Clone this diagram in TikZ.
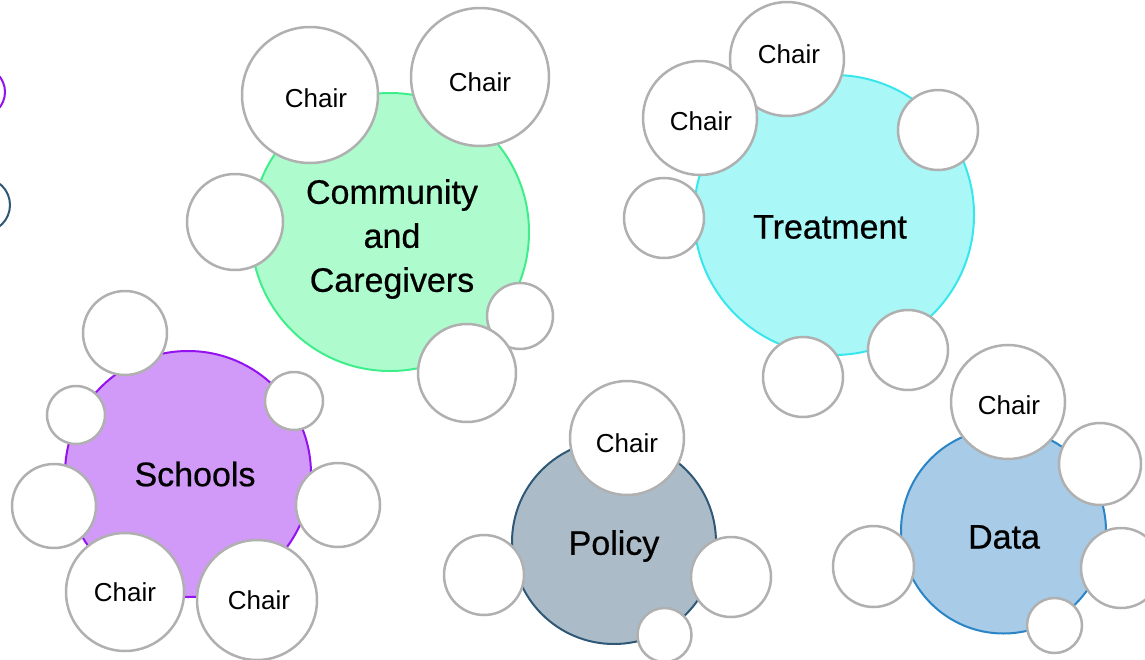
\documentclass[tikz,border=0pt]{standalone}
\usepackage{fontspec}
\setmainfont{Liberation Sans}
\definecolor{commfill}{HTML}{AEFCCE}
\definecolor{commline}{HTML}{3FEE8A}
\definecolor{treatfill}{HTML}{A9F7F7}
\definecolor{treatline}{HTML}{38E6EC}
\definecolor{schoolfill}{HTML}{D19AF9}
\definecolor{schoolline}{HTML}{9412EE}
\definecolor{policyfill}{HTML}{ABBCC8}
\definecolor{policyline}{HTML}{2E5876}
\definecolor{datafill}{HTML}{A8CCE7}
\definecolor{dataline}{HTML}{2A84C6}
\definecolor{satline}{HTML}{B0B0B0}
\newfontfamily\labelfont[FakeBold=0.6]{Liberation Sans}
\tikzset{
  hub/.style={circle, inner sep=0pt, outer sep=0pt, line width=2pt},
  hubtext/.style={inner sep=0pt, align=center,
    font=\labelfont\fontsize{34}{44}\selectfont},
  sat/.style={circle, inner sep=0pt, outer sep=0pt, draw=satline, fill=white,
    line width=2.5pt},
  chairtext/.style={inner sep=0pt, font=\fontsize{26}{30}\selectfont},
}
\begin{document}
\begin{tikzpicture}[x=1pt,y=-1pt]
\useasboundingbox (0,0) rectangle (1145,659);
\clip (0,0) rectangle (1145,659);

% partial rings at the left edge
\node[hub, draw=schoolline, fill=white, minimum size=50pt] (ringa) at (-20,92) {};
\node[hub, draw=policyline, fill=white, minimum size=54pt] (ringb) at (-17,205) {};

% Community and Caregivers
\node[hub, draw=commline, fill=commfill, minimum size=278pt] (comm) at (390,232) {};
\node[hubtext] (commlbl) at (392,239) {Community\\and\\Caregivers};
\node[sat, minimum size=136pt] (c1) at (310,95) {};
\node[chairtext] (c1t) at (316,98) {Chair};
\node[sat, minimum size=138pt] (c2) at (480,77) {};
\node[chairtext] (c2t) at (480,82) {Chair};
\node[sat, minimum size=96pt] (c3) at (235,222) {};
\node[sat, minimum size=66pt] (c4) at (520,316) {};
\node[sat, minimum size=98pt] (c5) at (467,373) {};

% Treatment
\node[hub, draw=treatline, fill=treatfill, minimum size=280pt] (treat) at (834,215) {};
\node[hubtext] (treatlbl) at (830,227) {Treatment};
\node[sat, minimum size=114pt] (t1) at (787,59) {};
\node[chairtext] (t1t) at (789,54) {Chair};
\node[sat, minimum size=114pt] (t2) at (700,118) {};
\node[chairtext] (t2t) at (701,121) {Chair};
\node[sat, minimum size=80pt] (t3) at (938,130) {};
\node[sat, minimum size=80pt] (t4) at (664,218) {};
\node[sat, minimum size=80pt] (t5) at (908,350) {};
\node[sat, minimum size=80pt] (t6) at (803,377) {};

% Schools
\node[hub, draw=schoolline, fill=schoolfill, minimum size=246pt] (school) at (188,474) {};
\node[hubtext] (schoollbl) at (195,474) {Schools};
\node[sat, minimum size=84pt] (s1) at (125,333) {};
\node[sat, minimum size=58pt] (s2) at (76,415) {};
\node[sat, minimum size=58pt] (s3) at (294,401) {};
\node[sat, minimum size=84pt] (s4) at (54,506) {};
\node[sat, minimum size=84pt] (s5) at (338,505) {};
\node[sat, minimum size=118pt] (s6) at (125,592) {};
\node[chairtext] (s6t) at (125,592) {Chair};
\node[sat, minimum size=120pt] (s7) at (257,600) {};
\node[chairtext] (s7t) at (259,600) {Chair};

% Policy
\node[hub, draw=policyline, fill=policyfill, minimum size=204pt] (policy) at (614,542) {};
\node[hubtext] (policylbl) at (614,546) {Policy};
\node[sat, minimum size=114pt] (p1) at (627,438) {};
\node[chairtext] (p1t) at (627,443) {Chair};
\node[sat, minimum size=80pt] (p2) at (484,575) {};
\node[sat, minimum size=80pt] (p3) at (731,577) {};
\node[sat, minimum size=54pt] (p4) at (664.5,635) {};

% Data
\node[hub, draw=dataline, fill=datafill, minimum size=205pt] (data) at (1003.5,531) {};
\node[hubtext] (datalbl) at (1004,537) {Data};
\node[sat, minimum size=114pt] (d1) at (1008,402) {};
\node[chairtext] (d1t) at (1009,405) {Chair};
\node[sat, minimum size=82pt] (d2) at (1100,464) {};
\node[sat, minimum size=80pt] (d3) at (1121,568) {};
\node[sat, minimum size=81pt] (d4) at (873.5,566.5) {};
\node[sat, minimum size=55pt] (d5) at (1054.5,625.5) {};
\end{tikzpicture}
\end{document}
